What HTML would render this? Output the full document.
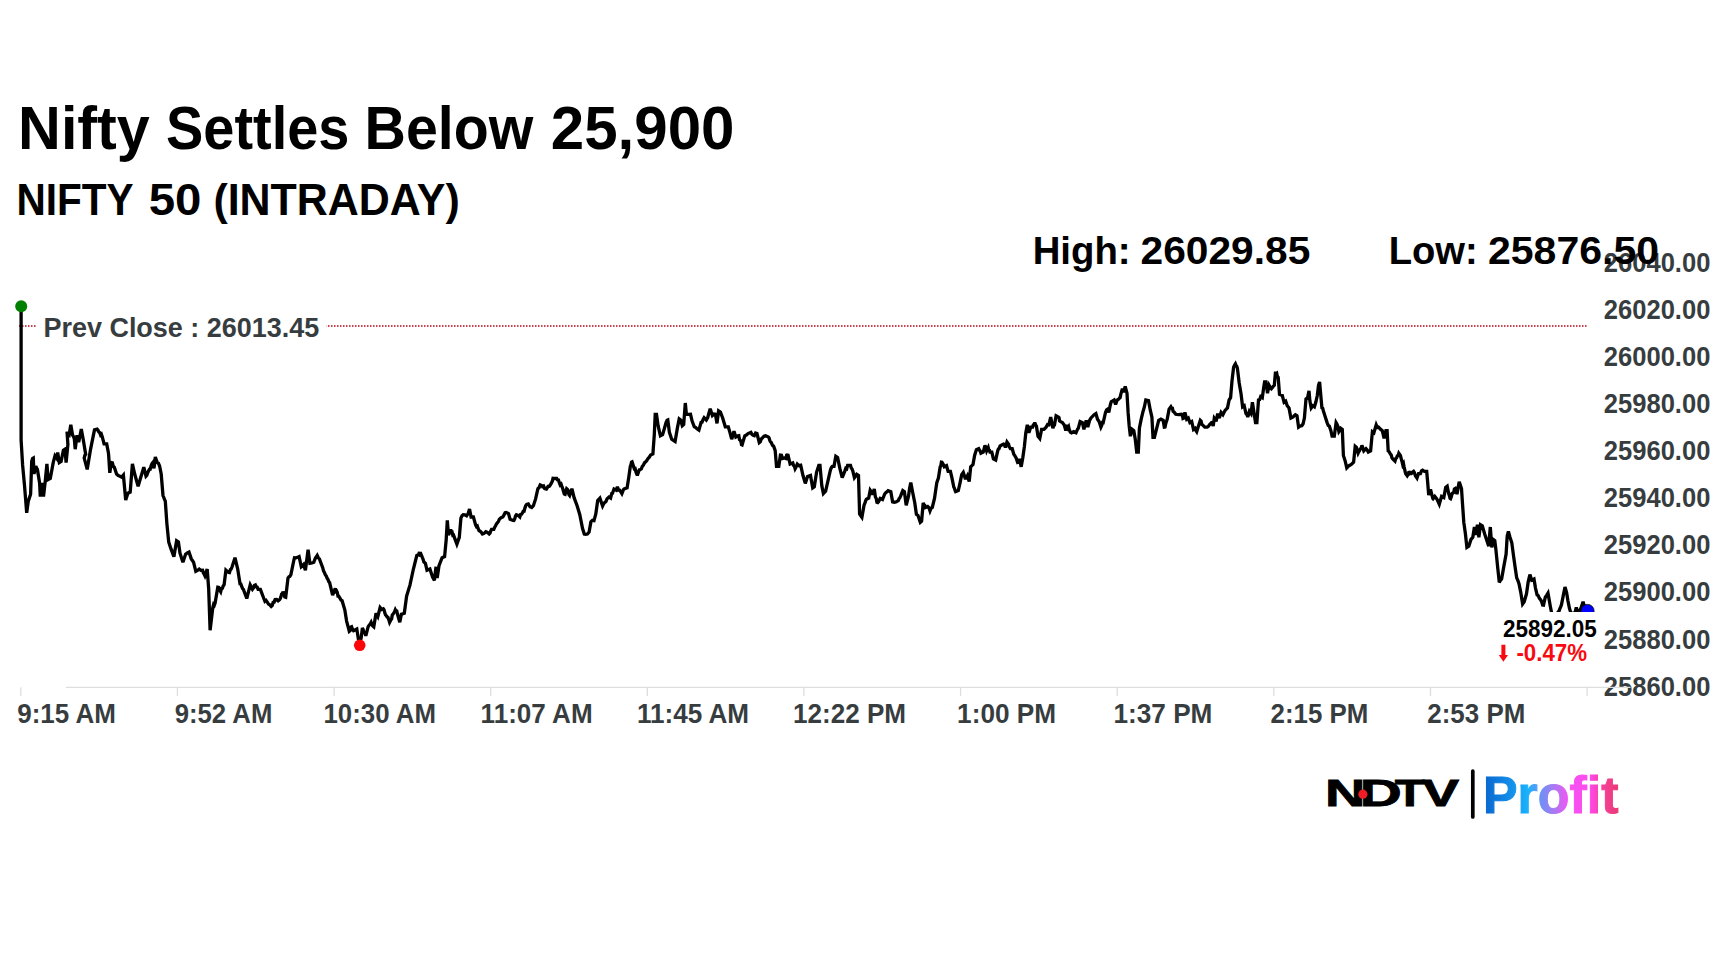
<!DOCTYPE html>
<html lang="en">
<head>
<meta charset="utf-8">
<title>Nifty Settles Below 25,900</title>
<style>
html,body{margin:0;padding:0;background:#fff;}
body{width:1728px;height:972px;overflow:hidden;position:relative;font-family:"Liberation Sans",Arial,Helvetica,sans-serif;}
svg{position:absolute;left:0;top:0;display:block;}
text{font-family:"Liberation Sans",Arial,Helvetica,sans-serif;font-weight:700;}
.ax{fill:#373d3f;font-size:27.4px;}
.t1{fill:#000;font-size:60.5px;}
.t2{fill:#000;font-size:45.2px;}
.t3{fill:#000;font-size:39.3px;}
.v{font-size:23.1px;}
</style>
</head>
<body>
<svg xmlns="http://www.w3.org/2000/svg" width="1728" height="972" viewBox="0 0 1728 972">
<defs>
<linearGradient id="pg" gradientUnits="userSpaceOnUse" x1="1485" y1="0" x2="1619" y2="0">
<stop offset="0" stop-color="#0a68d0"/>
<stop offset="0.20" stop-color="#1390ea"/>
<stop offset="0.32" stop-color="#1bb2fc"/>
<stop offset="0.42" stop-color="#6f90f5"/>
<stop offset="0.52" stop-color="#ab78f3"/>
<stop offset="0.62" stop-color="#f255f3"/>
<stop offset="0.78" stop-color="#ff48ee"/>
<stop offset="0.88" stop-color="#f6409a"/>
<stop offset="1" stop-color="#e83a74"/>
</linearGradient>
</defs>
<rect width="1728" height="972" fill="#ffffff"/>
<text class="t1" y="148.6"><tspan x="18.1" textLength="131.7" lengthAdjust="spacingAndGlyphs">Nifty</tspan> <tspan x="166.1" textLength="183.3" lengthAdjust="spacingAndGlyphs">Settles</tspan> <tspan x="364.6" textLength="168.8" lengthAdjust="spacingAndGlyphs">Below</tspan> <tspan x="550.8" textLength="183.6" lengthAdjust="spacingAndGlyphs">25,900</tspan></text>
<text class="t2" y="215.0"><tspan x="16.4" textLength="116.4" lengthAdjust="spacingAndGlyphs">NIFTY</tspan> <tspan x="148.7" textLength="52.7" lengthAdjust="spacingAndGlyphs">50</tspan> <tspan x="213.4" textLength="246.4" lengthAdjust="spacingAndGlyphs">(INTRADAY)</tspan></text>
<g class="ax">
<text x="17.2" y="722.5" textLength="98.7" lengthAdjust="spacingAndGlyphs">9:15 AM</text>
<text x="174.7" y="722.5" textLength="97.6" lengthAdjust="spacingAndGlyphs">9:52 AM</text>
<text x="323.5" y="722.5" textLength="112.4" lengthAdjust="spacingAndGlyphs">10:30 AM</text>
<text x="480.6" y="722.5" textLength="112.0" lengthAdjust="spacingAndGlyphs">11:07 AM</text>
<text x="636.9" y="722.5" textLength="112.2" lengthAdjust="spacingAndGlyphs">11:45 AM</text>
<text x="793.0" y="722.5" textLength="113.1" lengthAdjust="spacingAndGlyphs">12:22 PM</text>
<text x="957.1" y="722.5" textLength="99.0" lengthAdjust="spacingAndGlyphs">1:00 PM</text>
<text x="1113.5" y="722.5" textLength="98.9" lengthAdjust="spacingAndGlyphs">1:37 PM</text>
<text x="1270.6" y="722.5" textLength="97.8" lengthAdjust="spacingAndGlyphs">2:15 PM</text>
<text x="1427.3" y="722.5" textLength="98.0" lengthAdjust="spacingAndGlyphs">2:53 PM</text>
</g>
<line x1="19" y1="326" x2="1587" y2="326" stroke="#c8414f" stroke-width="2" stroke-dasharray="1.5 1.5"/>
<rect x="36" y="312" width="290.5" height="30" fill="#fff"/>
<text x="43.4" y="336.6" textLength="276.0" lengthAdjust="spacingAndGlyphs" fill="#373d3f" font-size="28.4">Prev Close : 26013.45</text>
<path d="M21.1 306.3 L21.1 440.0 L22.6 464.9 L24.5 485.3 L26.7 512.9 L28.3 501.1 L30.6 494.3 L31.7 461.5 L32.5 458.6 L33.3 458.1 L34.0 474.0 L35.8 466.0 L36.6 468.1 L37.4 469.4 L39.6 483.0 L40.3 496.6 L41.9 483.0 L43.5 496.6 L45.3 480.8 L46.9 463.8 L48.2 479.6 L50.3 478.5 L53.2 462.6 L55.0 455.8 L56.6 458.1 L57.7 452.5 L59.3 462.6 L61.1 461.5 L63.4 450.2 L65.0 449.1 L66.1 462.6 L67.9 444.5 L67.0 431.7 L68.0 434.4 L69.1 435.2 L70.8 424.7 L72.6 435.2 L73.4 436.5 L74.3 438.7 L75.2 449.2 L77.0 435.2 L78.7 442.2 L81.3 429.1 L83.1 438.7 L85.7 454.4 L85.0 455.0 L84.2 458.1 L87.2 469.4 L90.6 449.1 L92.7 438.7 L94.5 429.9 L97.1 429.1 L98.0 430.2 L98.8 431.9 L99.7 432.6 L100.6 435.1 L101.4 434.3 L102.3 436.9 L104.1 443.9 L106.7 443.9 L108.4 452.7 L108.7 455.8 L109.8 472.8 L111.4 462.6 L112.4 462.9 L113.3 466.3 L114.3 467.2 L116.6 474.0 L118.3 475.6 L120.0 476.2 L121.7 477.1 L123.4 475.1 L125.7 500.0 L127.9 493.2 L130.2 492.1 L132.4 463.8 L134.7 474.0 L138.1 486.4 L140.4 478.5 L143.8 467.2 L146.0 476.2 L146.8 475.4 L147.7 472.7 L148.6 470.8 L149.4 469.4 L150.2 469.3 L151.1 465.7 L152.0 463.6 L152.8 462.6 L154.0 468.3 L155.3 457.0 L157.3 462.6 L158.4 463.2 L159.6 466.0 L161.2 474.0 L163.0 495.5 L163.8 497.5 L164.5 499.4 L165.3 501.1 L166.9 523.8 L168.7 541.9 L170.9 548.7 L173.9 556.6 L176.6 540.7 L178.4 541.9 L180.0 553.2 L182.9 562.3 L185.6 554.3 L187.3 552.9 L189.0 552.1 L191.3 558.9 L192.4 560.5 L193.6 562.3 L195.8 571.3 L197.5 570.4 L199.2 569.0 L200.9 570.3 L202.6 570.2 L203.4 573.1 L204.1 574.1 L204.9 575.8 L207.2 569.0 L208.7 589.4 L210.1 630.2 L212.8 607.5 L213.6 604.4 L214.3 605.2 L215.1 603.0 L217.8 587.2 L218.8 587.4 L219.7 590.0 L220.7 591.7 L221.5 588.6 L222.4 588.3 L223.2 585.9 L224.1 584.9 L225.9 570.2 L227.3 571.5 L228.7 572.4 L229.5 572.6 L230.4 569.6 L231.2 569.0 L232.1 566.8 L235.0 557.7 L237.7 569.0 L240.0 583.8 L240.8 583.9 L241.7 586.3 L242.6 588.6 L243.4 589.4 L246.8 598.5 L250.2 584.9 L250.9 586.3 L251.7 588.3 L252.4 589.4 L253.4 588.0 L254.4 585.4 L255.4 584.9 L256.3 586.9 L257.2 587.1 L258.1 589.4 L260.4 589.4 L263.8 598.5 L264.9 601.2 L266.0 600.3 L267.1 601.9 L268.5 604.1 L269.8 604.9 L271.2 606.4 L272.2 605.6 L273.1 602.4 L274.1 602.2 L275.1 599.6 L276.6 599.5 L278.1 600.8 L279.6 599.6 L280.3 598.6 L281.0 596.6 L281.6 594.1 L282.3 594.0 L283.0 591.7 L283.9 594.0 L284.8 597.0 L285.7 597.3 L288.0 578.1 L289.0 576.6 L289.9 576.4 L290.9 574.7 L293.9 560.0 L294.5 557.7 L296.0 557.8 L297.6 557.2 L299.1 556.6 L301.3 566.8 L302.5 565.8 L303.6 564.5 L305.4 570.2 L308.1 549.8 L309.9 563.4 L311.9 563.0 L313.8 562.3 L314.6 560.0 L315.5 557.9 L316.4 556.8 L317.2 555.5 L318.3 557.8 L319.4 558.9 L322.8 567.9 L323.5 570.9 L324.2 572.0 L324.8 573.6 L325.5 575.0 L326.2 575.8 L327.1 578.2 L327.9 579.4 L328.8 581.6 L329.6 582.6 L332.6 595.1 L335.3 588.3 L336.0 591.5 L336.7 591.1 L337.3 592.4 L338.0 596.2 L338.7 596.2 L339.8 597.9 L341.0 600.1 L342.1 600.7 L344.8 609.8 L346.6 621.1 L349.3 631.3 L350.1 630.6 L350.8 627.2 L351.6 626.8 L352.6 629.5 L353.5 630.7 L354.5 630.2 L356.8 629.0 L358.4 639.2 L359.7 644.9 L361.3 637.0 L362.4 627.9 L363.1 629.6 L363.8 631.8 L364.4 632.8 L365.1 633.4 L365.8 635.8 L368.1 626.8 L369.1 625.2 L370.1 624.2 L371.1 622.3 L372.0 624.9 L372.9 626.0 L373.8 626.8 L376.0 613.2 L376.9 615.0 L377.8 616.6 L380.1 607.5 L381.7 609.4 L383.3 608.7 L384.0 609.7 L384.8 612.9 L385.5 614.9 L386.2 615.5 L387.1 616.9 L387.9 617.3 L388.8 619.7 L389.6 622.3 L390.3 620.9 L391.0 619.6 L391.6 619.0 L392.3 614.9 L393.0 614.3 L393.8 612.8 L394.5 611.9 L395.3 609.8 L396.0 611.2 L396.8 611.2 L397.5 614.3 L399.8 622.3 L401.4 614.3 L404.3 613.2 L406.6 596.2 L410.0 584.9 L413.4 569.0 L416.8 555.5 L417.7 555.1 L418.6 554.8 L419.5 552.1 L420.2 554.5 L420.9 554.0 L421.7 555.9 L422.4 557.7 L423.1 559.3 L423.9 562.1 L424.6 562.6 L425.4 563.4 L427.0 570.2 L429.9 569.0 L432.6 577.0 L433.5 578.8 L434.4 580.4 L436.0 566.8 L437.2 578.1 L439.0 565.7 L442.1 557.7 L444.6 556.6 L446.2 539.6 L447.3 520.4 L448.5 535.1 L450.7 529.4 L451.4 532.3 L452.1 532.2 L452.8 535.3 L453.5 535.1 L456.9 544.1 L459.3 537.4 L460.9 518.1 L462.0 515.7 L463.2 514.7 L464.9 514.8 L466.6 515.8 L467.3 514.8 L468.1 513.8 L468.8 511.4 L469.5 509.1 L471.1 517.0 L473.4 517.0 L475.6 524.9 L476.5 526.6 L477.3 526.1 L478.1 528.5 L479.0 530.6 L480.1 531.2 L481.3 532.4 L482.4 534.0 L484.1 533.4 L485.8 531.7 L487.5 532.5 L489.2 534.0 L490.0 533.2 L490.7 531.0 L491.5 529.4 L493.8 529.4 L494.7 527.2 L495.6 525.8 L496.5 523.8 L497.5 522.7 L498.4 521.5 L499.4 519.2 L501.1 517.6 L502.8 517.0 L503.9 515.2 L505.1 512.6 L506.2 512.4 L508.5 513.6 L510.1 519.2 L513.0 520.4 L513.9 520.5 L514.7 518.9 L515.5 516.0 L516.4 514.7 L518.1 515.4 L519.8 517.0 L520.6 514.4 L521.5 514.3 L522.4 512.9 L523.2 511.3 L524.1 511.2 L524.9 508.1 L525.8 505.5 L526.6 504.5 L528.3 504.0 L530.0 506.8 L531.7 507.6 L533.4 505.7 L535.6 498.9 L537.9 488.7 L539.0 487.7 L540.2 484.9 L541.3 485.3 L542.4 486.6 L543.6 486.0 L544.7 488.7 L546.4 489.1 L548.1 486.4 L549.2 486.3 L550.4 484.7 L551.5 483.0 L552.3 481.3 L553.0 478.4 L553.8 478.5 L556.7 478.5 L557.6 479.9 L558.5 480.0 L559.4 483.0 L560.2 485.0 L561.1 484.2 L561.9 486.4 L562.8 488.7 L563.6 491.7 L564.3 494.0 L565.1 494.3 L566.7 488.7 L567.4 489.3 L568.2 490.6 L568.9 494.6 L569.6 495.5 L571.9 488.7 L574.1 497.7 L577.1 505.7 L579.8 514.7 L582.5 528.3 L584.3 534.0 L585.7 534.3 L587.4 534.0 L589.1 532.1 L590.9 521.9 L592.5 520.4 L594.0 520.7 L595.8 514.0 L597.7 500.4 L599.9 498.1 L602.6 506.0 L603.7 503.8 L604.9 502.3 L606.0 501.5 L607.0 498.9 L608.0 497.9 L609.0 497.0 L610.6 498.1 L611.7 493.6 L612.5 493.3 L613.2 491.2 L614.0 489.0 L616.2 490.2 L617.4 486.8 L618.5 490.1 L619.6 490.2 L620.8 491.8 L621.9 493.6 L622.6 491.9 L623.4 489.6 L624.1 489.0 L627.1 487.9 L628.7 477.7 L630.3 466.4 L630.9 464.8 L631.5 462.2 L632.1 461.9 L634.3 468.7 L635.1 468.5 L636.0 472.2 L636.9 474.3 L637.7 474.3 L639.3 469.8 L640.3 469.5 L641.3 468.8 L642.3 466.4 L643.4 465.1 L644.6 462.7 L645.7 461.9 L646.8 460.5 L648.0 458.5 L649.1 457.4 L650.6 455.1 L652.9 454.0 L654.3 434.7 L655.2 414.3 L656.5 414.3 L658.1 425.7 L660.4 435.8 L662.6 434.7 L664.9 426.8 L665.6 424.0 L666.3 421.8 L667.1 420.3 L667.8 420.0 L669.4 432.4 L671.7 439.2 L673.4 440.3 L675.1 441.5 L677.4 427.9 L679.2 418.9 L680.7 420.0 L682.3 425.7 L683.7 424.5 L685.3 403.0 L686.4 414.3 L688.5 414.4 L690.5 414.3 L692.1 421.1 L694.3 426.8 L695.8 427.5 L697.3 429.1 L698.9 430.2 L701.1 422.3 L702.1 422.1 L703.1 419.4 L704.1 417.7 L706.3 420.0 L707.1 418.7 L707.8 417.4 L708.6 414.3 L710.2 408.7 L712.4 415.5 L713.9 414.1 L715.4 414.3 L717.0 423.4 L718.6 410.9 L720.4 412.1 L722.6 417.7 L725.3 426.8 L728.3 426.8 L729.9 432.4 L731.7 439.2 L734.0 431.3 L735.8 437.0 L738.0 435.8 L738.8 435.7 L739.5 439.6 L740.3 440.4 L740.9 441.2 L741.5 444.6 L742.1 444.9 L744.8 435.8 L746.4 435.0 L748.0 433.6 L750.9 432.4 L752.0 434.5 L753.2 435.4 L754.3 435.8 L755.6 433.1 L757.0 433.6 L759.3 442.6 L760.3 441.8 L761.3 439.0 L762.3 438.1 L764.0 436.2 L765.6 435.8 L768.4 437.0 L769.1 438.0 L769.8 440.5 L770.6 442.0 L771.3 442.6 L772.5 445.3 L773.6 446.0 L775.2 450.6 L776.5 466.4 L778.8 466.4 L780.4 455.1 L781.5 455.2 L782.6 458.5 L784.3 457.9 L786.0 458.5 L786.6 455.4 L787.2 455.4 L787.8 454.0 L790.1 464.1 L792.8 463.0 L793.6 465.5 L794.3 466.1 L795.1 468.7 L795.8 467.4 L796.6 465.9 L797.3 464.1 L799.0 465.7 L800.7 465.3 L803.0 475.5 L805.3 483.4 L807.5 476.6 L810.5 475.5 L812.7 487.9 L814.3 486.8 L816.6 472.1 L818.8 465.3 L820.0 465.3 L821.8 485.7 L823.4 493.6 L825.6 491.3 L827.9 481.1 L830.2 470.9 L830.9 468.6 L831.7 467.1 L832.4 466.4 L834.0 466.4 L835.8 456.2 L837.6 457.4 L839.9 468.7 L842.2 477.7 L844.9 470.9 L845.8 468.3 L846.7 468.8 L847.6 465.3 L850.5 465.3 L851.3 468.2 L852.0 468.9 L852.8 470.9 L854.4 477.7 L855.5 476.2 L856.7 474.3 L858.5 475.5 L859.6 514.0 L860.8 515.8 L861.9 517.3 L864.1 504.9 L864.9 503.2 L865.6 500.9 L866.4 499.2 L868.7 498.1 L870.2 490.2 L871.0 491.4 L871.7 492.0 L872.5 494.7 L874.3 489.0 L875.4 497.0 L876.2 498.3 L876.9 502.3 L877.7 502.6 L878.5 501.7 L879.4 499.9 L880.2 498.5 L882.5 499.6 L884.7 494.0 L885.8 492.7 L887.0 491.8 L888.1 490.6 L890.8 491.7 L892.6 501.9 L894.3 502.2 L896.0 501.9 L898.3 500.7 L899.1 498.6 L899.8 497.9 L900.6 496.2 L902.8 490.6 L904.4 491.7 L906.2 505.3 L908.5 496.2 L909.6 488.3 L910.8 482.6 L913.0 494.0 L914.8 503.0 L916.4 514.3 L918.0 515.5 L920.3 522.3 L921.6 521.1 L923.2 503.0 L924.0 504.7 L924.7 505.3 L925.5 507.5 L927.7 506.4 L928.5 507.2 L929.2 508.5 L930.0 510.9 L931.1 508.2 L932.3 507.5 L934.5 498.5 L936.8 482.6 L938.4 478.1 L940.2 466.8 L940.8 466.1 L941.4 462.2 L942.0 462.3 L942.8 463.5 L943.5 464.7 L944.3 466.8 L946.5 465.7 L948.1 471.3 L950.4 471.3 L952.0 478.1 L953.8 487.2 L954.4 488.1 L955.0 490.3 L955.6 491.7 L958.3 490.6 L960.1 482.6 L961.7 474.7 L963.3 472.4 L965.1 478.1 L966.2 478.0 L967.4 475.8 L969.2 481.5 L970.7 466.8 L971.9 465.7 L973.0 464.5 L974.6 455.5 L976.4 449.8 L978.7 448.7 L979.4 450.1 L980.2 451.1 L980.9 453.2 L983.2 452.1 L985.0 445.3 L986.6 450.9 L987.4 449.1 L988.2 447.5 L988.8 449.9 L989.4 450.2 L990.0 452.1 L991.8 452.1 L993.4 458.9 L995.7 460.0 L997.2 453.2 L997.8 450.6 L998.4 449.0 L999.0 448.7 L1000.1 445.9 L1001.3 445.3 L1003.6 444.1 L1004.5 444.5 L1005.4 447.5 L1007.0 441.9 L1008.6 444.1 L1009.2 446.7 L1009.8 447.5 L1010.4 448.7 L1012.2 448.7 L1013.8 454.3 L1014.9 455.8 L1016.0 457.7 L1017.6 462.3 L1018.5 462.0 L1019.4 458.9 L1021.2 466.8 L1022.8 457.7 L1024.4 446.4 L1025.8 432.8 L1027.3 424.9 L1028.9 432.8 L1030.7 427.2 L1032.6 427.2 L1033.3 425.0 L1034.1 424.8 L1034.8 422.6 L1035.6 425.1 L1036.4 426.0 L1038.0 436.2 L1039.8 438.5 L1041.6 429.4 L1043.9 429.4 L1046.1 427.2 L1047.5 424.6 L1048.9 424.9 L1050.7 417.0 L1052.9 428.3 L1053.7 425.1 L1054.5 424.9 L1056.1 415.8 L1058.4 417.0 L1059.0 417.6 L1059.6 420.9 L1060.2 421.5 L1062.4 422.6 L1064.2 424.9 L1065.8 430.6 L1067.4 424.9 L1068.0 427.6 L1068.6 426.7 L1069.2 429.4 L1070.3 432.1 L1071.5 432.8 L1073.8 431.7 L1076.0 432.8 L1076.8 430.9 L1077.5 429.4 L1078.3 428.3 L1080.1 421.5 L1082.4 422.6 L1083.9 429.4 L1086.2 420.4 L1087.8 427.2 L1089.6 420.4 L1090.8 418.2 L1091.9 417.0 L1094.1 414.7 L1095.9 413.6 L1097.5 419.2 L1099.1 421.5 L1100.9 427.2 L1101.7 425.4 L1102.4 422.5 L1103.2 422.6 L1105.5 412.4 L1106.6 409.8 L1107.7 409.1 L1108.8 412.4 L1110.4 404.5 L1111.3 401.6 L1112.2 401.1 L1114.1 400.0 L1115.6 404.5 L1117.2 400.0 L1119.0 398.9 L1119.6 397.8 L1120.2 397.4 L1120.8 394.3 L1122.4 388.7 L1123.6 392.1 L1125.2 386.4 L1127.0 393.2 L1128.1 412.4 L1129.2 426.0 L1130.4 436.2 L1132.2 429.4 L1133.8 430.6 L1135.3 439.6 L1136.7 452.1 L1138.3 452.1 L1139.4 428.3 L1141.2 419.2 L1142.8 412.4 L1144.4 406.8 L1145.8 400.0 L1148.5 400.7 L1150.3 410.2 L1151.9 417.0 L1153.0 437.4 L1154.4 437.4 L1156.4 429.4 L1158.7 420.4 L1160.9 419.2 L1163.2 420.4 L1164.3 427.2 L1165.0 427.1 L1165.7 423.8 L1167.2 419.2 L1169.1 409.1 L1170.9 406.8 L1171.6 408.0 L1172.4 408.2 L1173.1 411.3 L1174.4 412.4 L1175.8 414.3 L1178.6 414.7 L1181.5 414.3 L1182.3 414.7 L1183.0 418.4 L1183.8 418.1 L1184.9 412.4 L1186.7 419.2 L1188.3 418.1 L1189.9 422.6 L1191.7 421.5 L1193.5 429.4 L1195.1 428.3 L1195.9 430.5 L1196.7 431.7 L1198.5 426.0 L1200.3 420.4 L1201.1 421.2 L1201.8 424.3 L1202.6 424.9 L1204.8 427.2 L1207.1 427.2 L1208.2 426.6 L1209.4 424.9 L1211.6 422.6 L1212.4 422.8 L1213.2 426.0 L1214.3 418.1 L1215.2 419.3 L1216.1 421.5 L1217.7 413.6 L1219.3 418.1 L1221.1 412.4 L1222.9 414.7 L1223.7 413.0 L1224.4 411.7 L1225.2 410.2 L1226.3 409.2 L1227.5 407.9 L1229.1 400.0 L1230.6 397.7 L1232.0 380.8 L1233.6 367.2 L1234.5 365.2 L1235.4 363.8 L1236.1 365.5 L1236.7 366.2 L1237.4 368.3 L1239.2 383.0 L1241.1 394.3 L1242.6 406.8 L1244.2 405.7 L1246.0 413.6 L1246.9 414.4 L1247.8 417.0 L1249.4 411.3 L1251.0 413.6 L1252.4 402.3 L1254.0 412.4 L1255.5 422.6 L1256.9 422.6 L1258.5 400.0 L1259.6 399.7 L1260.7 396.6 L1262.3 397.7 L1263.7 387.5 L1264.6 381.9 L1266.0 381.9 L1267.5 393.2 L1269.1 385.3 L1270.2 387.3 L1271.4 388.7 L1273.2 386.4 L1274.3 385.3 L1275.5 371.7 L1276.1 373.6 L1276.7 373.2 L1277.3 376.2 L1278.2 377.4 L1279.5 394.3 L1282.3 395.5 L1284.1 402.3 L1285.7 401.1 L1287.2 405.7 L1289.0 407.9 L1290.9 418.1 L1293.1 417.0 L1294.2 415.7 L1295.4 414.7 L1297.0 415.8 L1298.6 427.2 L1300.4 426.0 L1301.8 425.7 L1303.1 423.8 L1304.4 418.1 L1306.0 398.9 L1307.6 397.7 L1309.0 390.9 L1309.9 401.1 L1311.2 407.9 L1312.8 405.7 L1314.4 406.8 L1315.8 402.3 L1317.3 395.5 L1318.5 385.3 L1319.6 381.9 L1320.7 394.3 L1321.9 407.9 L1322.7 408.4 L1323.5 411.3 L1325.3 417.0 L1327.1 422.6 L1328.2 425.3 L1329.3 426.0 L1330.9 430.6 L1332.1 436.2 L1334.3 436.2 L1336.1 422.6 L1336.9 423.9 L1337.7 426.0 L1338.9 431.7 L1339.8 430.4 L1340.7 428.3 L1342.3 429.4 L1343.4 455.5 L1345.2 461.1 L1346.8 467.9 L1349.0 465.7 L1351.3 464.5 L1353.6 462.3 L1355.2 446.4 L1356.5 447.5 L1358.1 453.2 L1358.9 451.6 L1359.6 450.4 L1360.4 448.7 L1361.2 448.1 L1361.9 445.3 L1363.8 450.9 L1366.0 448.7 L1367.2 450.0 L1368.3 452.1 L1370.6 450.9 L1372.4 431.7 L1373.9 432.8 L1376.2 424.9 L1377.3 427.5 L1378.5 427.2 L1380.7 429.4 L1382.3 430.6 L1384.1 438.5 L1385.9 430.6 L1387.1 430.6 L1388.2 450.9 L1389.3 451.9 L1390.5 454.3 L1391.2 454.9 L1392.0 458.0 L1392.7 458.9 L1395.0 461.1 L1395.8 458.4 L1396.6 457.7 L1397.3 455.8 L1398.1 455.6 L1398.8 453.2 L1400.4 455.5 L1402.2 462.3 L1402.8 464.9 L1403.5 463.7 L1404.1 466.8 L1405.6 473.6 L1407.2 475.8 L1407.8 474.8 L1408.4 474.4 L1409.0 471.3 L1410.2 473.6 L1411.3 473.6 L1412.4 472.2 L1413.6 471.3 L1414.2 472.2 L1414.8 474.0 L1415.4 475.8 L1417.0 478.1 L1418.5 473.6 L1420.4 473.6 L1421.5 470.8 L1422.6 470.2 L1424.4 471.3 L1426.7 471.3 L1427.6 481.5 L1428.7 495.1 L1430.5 489.4 L1432.8 498.5 L1433.0 498.7 L1434.8 496.4 L1436.6 498.7 L1437.5 500.3 L1438.4 502.3 L1439.3 504.3 L1441.6 496.4 L1443.8 497.5 L1445.7 487.4 L1447.2 486.2 L1448.8 494.1 L1449.4 495.5 L1450.0 498.3 L1450.6 498.7 L1451.4 496.6 L1452.1 493.5 L1452.9 493.0 L1453.7 492.5 L1454.4 489.0 L1455.2 488.5 L1457.0 494.1 L1459.2 481.7 L1461.5 488.5 L1462.4 502.1 L1463.8 522.4 L1465.4 533.8 L1466.9 547.4 L1468.8 546.2 L1471.0 539.4 L1472.8 537.2 L1474.4 527.0 L1476.0 534.9 L1477.4 524.7 L1478.9 537.2 L1480.5 524.7 L1482.3 525.8 L1484.6 533.8 L1486.9 540.6 L1488.7 546.2 L1490.3 527.0 L1491.8 547.4 L1493.2 539.4 L1494.8 540.6 L1495.9 549.6 L1497.7 567.7 L1499.3 582.4 L1500.4 580.3 L1501.6 579.0 L1503.8 566.6 L1506.1 554.1 L1507.2 536.0 L1508.4 531.5 L1510.0 537.2 L1511.8 542.8 L1513.6 556.4 L1515.2 567.7 L1516.7 577.9 L1517.5 579.7 L1518.2 581.4 L1519.0 583.6 L1520.8 592.6 L1522.6 604.0 L1524.2 601.7 L1526.5 593.8 L1528.1 582.4 L1529.9 574.5 L1531.7 580.2 L1534.0 579.0 L1535.5 588.1 L1537.1 594.9 L1538.2 595.6 L1539.4 598.3 L1540.6 599.8 L1541.7 601.7 L1542.6 605.0 L1543.5 605.1 L1545.3 597.2 L1546.9 594.9 L1548.0 593.1 L1549.1 599.4 L1550.3 606.2 L1551.4 611.9 L1553.0 616.4 L1555.9 617.5 L1556.7 615.1 L1557.4 613.6 L1558.2 611.9 L1558.9 611.4 L1559.6 609.4 L1560.2 607.9 L1560.9 606.4 L1561.6 604.0 L1563.4 594.9 L1565.0 587.0 L1566.6 592.6 L1567.9 600.6 L1569.5 608.5 L1570.6 611.9 L1572.9 614.1 L1575.2 611.9 L1576.3 607.3 L1577.4 611.9 L1579.2 611.2 L1580.8 608.5 L1583.1 601.7 L1584.2 606.2 L1585.0 606.3 L1585.8 609.6 L1587.6 610.3" fill="none" stroke="#000" stroke-width="3.3" stroke-linejoin="miter" stroke-miterlimit="3" stroke-linecap="butt"/>
<circle cx="21.2" cy="306.3" r="6" fill="#008000"/>
<circle cx="359.7" cy="645.3" r="5.8" fill="#fb0509"/>
<circle cx="1587.5" cy="611" r="6.6" fill="#0000ff" stroke="#000" stroke-width="0.8"/>
<rect x="1494" y="612" width="108" height="58" fill="#fff"/>
<g class="v">
<text x="1502.9" y="636.7" textLength="93.9" lengthAdjust="spacingAndGlyphs" fill="#000">25892.05</text>
<g fill="#f80a10"><path d="M1501.4 644.8h4v10.2h2.6l-4.6 6.8-4.6-6.8h2.6z"/><text x="1516.4" y="660.7" textLength="70.6" lengthAdjust="spacingAndGlyphs">-0.47%</text></g>
</g>
<g class="ax">
<text x="1603.8" y="271.7" textLength="106.6" lengthAdjust="spacingAndGlyphs">26040.00</text>
<text x="1603.8" y="318.8" textLength="106.6" lengthAdjust="spacingAndGlyphs">26020.00</text>
<text x="1603.8" y="365.9" textLength="106.6" lengthAdjust="spacingAndGlyphs">26000.00</text>
<text x="1603.8" y="413.0" textLength="106.6" lengthAdjust="spacingAndGlyphs">25980.00</text>
<text x="1603.8" y="460.1" textLength="106.6" lengthAdjust="spacingAndGlyphs">25960.00</text>
<text x="1603.8" y="507.2" textLength="106.6" lengthAdjust="spacingAndGlyphs">25940.00</text>
<text x="1603.8" y="554.3" textLength="106.6" lengthAdjust="spacingAndGlyphs">25920.00</text>
<text x="1603.8" y="601.4" textLength="106.6" lengthAdjust="spacingAndGlyphs">25900.00</text>
<text x="1603.8" y="648.5" textLength="106.6" lengthAdjust="spacingAndGlyphs">25880.00</text>
<text x="1603.8" y="695.6" textLength="106.6" lengthAdjust="spacingAndGlyphs">25860.00</text>
</g>
<g stroke="#dedede" stroke-width="1.3" fill="none">
<line x1="66" y1="687.3" x2="1630.5" y2="687.3"/>
<line x1="20.8" y1="687.3" x2="20.8" y2="696"/>
<line x1="177.4" y1="687.3" x2="177.4" y2="696"/>
<line x1="334.1" y1="687.3" x2="334.1" y2="696"/>
<line x1="490.7" y1="687.3" x2="490.7" y2="696"/>
<line x1="647.3" y1="687.3" x2="647.3" y2="696"/>
<line x1="803.9" y1="687.3" x2="803.9" y2="696"/>
<line x1="960.6" y1="687.3" x2="960.6" y2="696"/>
<line x1="1117.2" y1="687.3" x2="1117.2" y2="696"/>
<line x1="1273.8" y1="687.3" x2="1273.8" y2="696"/>
<line x1="1430.5" y1="687.3" x2="1430.5" y2="696"/>
<line x1="1587.1" y1="687.3" x2="1587.1" y2="696"/>
</g>
<text class="t3" y="263.8"><tspan x="1032.7" textLength="97.9" lengthAdjust="spacingAndGlyphs">High:</tspan> <tspan x="1140.6" textLength="169.7" lengthAdjust="spacingAndGlyphs">26029.85</tspan></text>
<text class="t3" y="263.8"><tspan x="1388.7" textLength="89.1" lengthAdjust="spacingAndGlyphs">Low:</tspan> <tspan x="1488.0" textLength="171.0" lengthAdjust="spacingAndGlyphs">25876.50</tspan></text>
<text y="806.3" font-size="36" fill="#000" stroke="#000" stroke-width="0.8" stroke-linejoin="miter"><tspan x="1324.9" textLength="40.3" lengthAdjust="spacingAndGlyphs">N</tspan><tspan x="1359.8" textLength="42.0" lengthAdjust="spacingAndGlyphs">D</tspan><tspan x="1394.7" textLength="30.2" lengthAdjust="spacingAndGlyphs">T</tspan><tspan x="1422.2" textLength="36.9" lengthAdjust="spacingAndGlyphs">V</tspan></text>
<circle cx="1362.9" cy="794.2" r="4.6" fill="#ee1c25"/>
<line x1="1472.8" y1="771" x2="1472.8" y2="817" stroke="#000" stroke-width="3.7" stroke-linecap="round"/>
<text x="1483.0" y="812.6" textLength="135.4" lengthAdjust="spacingAndGlyphs" font-size="51" fill="url(#pg)" stroke="url(#pg)" stroke-width="1">Profit</text>
</svg>
</body>
</html>
